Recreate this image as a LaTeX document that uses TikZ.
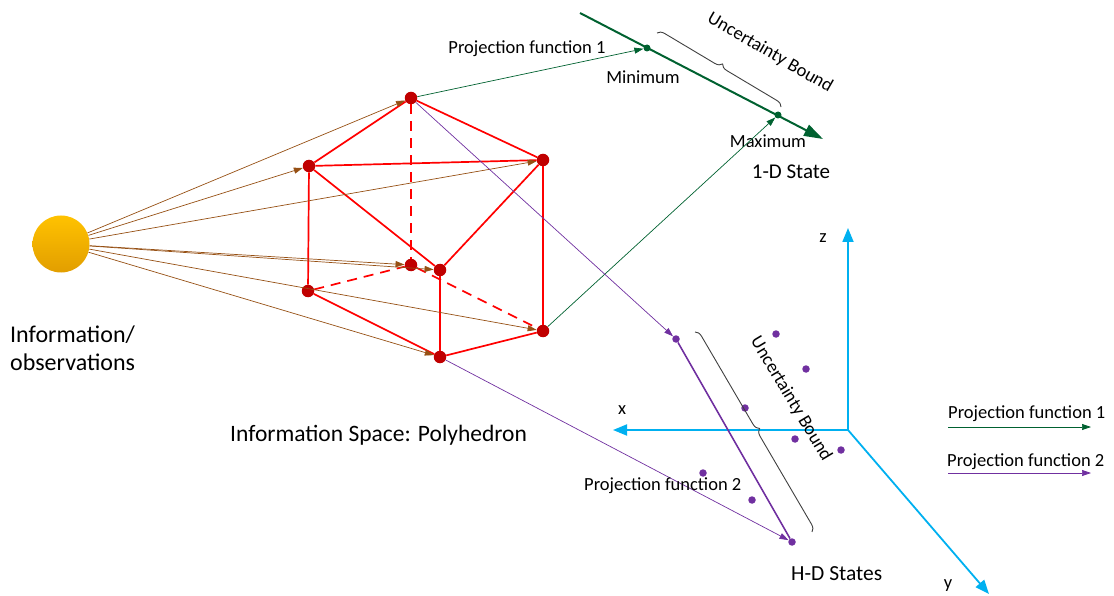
\documentclass[tikz,border=0pt]{standalone}
\usepackage{fontspec}
\setmainfont{Carlito}
\usetikzlibrary{arrows.meta,decorations.pathreplacing}

\definecolor{sunyellow}{RGB}{255,194,0}
\definecolor{sunorange}{RGB}{226,158,0}
\definecolor{edgered}{RGB}{255,0,0}
\definecolor{vertred}{RGB}{192,0,0}
\definecolor{raybrown}{RGB}{150,80,20}
\definecolor{projgreen}{RGB}{0,97,48}
\definecolor{projpurple}{RGB}{112,48,160}
\definecolor{axiscyan}{RGB}{0,176,240}
\definecolor{bracegray}{RGB}{64,64,64}

\tikzset{
  sun/.style={circle,inner sep=0pt,minimum size=57pt,top color=sunyellow,bottom color=sunorange},
  vert/.style={circle,fill=vertred,inner sep=0pt,minimum size=12.5pt},
  edge/.style={edgered,line width=1.7pt},
  hidden/.style={edge,dash pattern=on 10pt off 7pt},
  ray/.style={raybrown,line width=0.7pt,-{Triangle[length=9pt,width=6pt]}},
  proja/.style={projgreen,line width=0.7pt,-{Triangle[length=9pt,width=6pt]}},
  projb/.style={projpurple,line width=0.7pt,-{Triangle[length=9pt,width=6pt]}},
  gdot/.style={circle,fill=projgreen,inner sep=0pt,minimum size=7pt},
  pdot/.style={circle,fill=projpurple,inner sep=0pt,minimum size=7.5pt},
  ubrace/.style={bracegray,line width=0.9pt,decorate,decoration={brace,amplitude=7pt}},
  axis/.style={axiscyan,line width=1.8pt,-{Triangle[length=14pt,width=11pt]}},
  lbl/.style={anchor=base,inner sep=0pt,font=\fontsize{18.5}{20}\selectfont},
  big/.style={anchor=base west,inner sep=0pt,font=\fontsize{24}{26}\selectfont},
}

\begin{document}
\begin{tikzpicture}[x=1pt,y=-1pt]

  \useasboundingbox (0,0) rectangle (1114,596);

  % source of information
  \node[sun] (sun) at (61,244) {};
  \node[big] (info1) at (10,342) {Information/};
  \node[big] (info2) at (10,370) {observations};

  % corners of the polyhedron
  \node[vert] (top)  at (411,98)  {};
  \node[vert] (ul)   at (309,166) {};
  \node[vert] (ur)   at (543,160) {};
  \node[vert] (back) at (411,265) {};
  \node[vert] (mid)  at (440,270) {};
  \node[vert] (ll)   at (308,291) {};
  \node[vert] (lr)   at (543,331) {};
  \node[vert] (bot)  at (440,357) {};

  \draw[edge] (top) -- (ul);
  \draw[edge] (top) -- (ur);
  \draw[edge] (ul) -- (ur);
  \draw[edge] (ul) -- (ll);
  \draw[edge] (ul) -- (mid);
  \draw[edge] (ur) -- (mid);
  \draw[edge] (ur) -- (lr);
  \draw[edge] (mid) -- (bot);
  \draw[edge] (ll) -- (bot);
  \draw[edge] (bot) -- (lr);
  \draw[hidden] (top) -- (back);
  \draw[hidden] (ll) -- (back);
  \draw[hidden] (back) -- (lr);

  \foreach \v in {top,ul,ur,back,mid,lr,bot}
    \draw[ray] (sun) -- (\v);

  \node[big,font=\fontsize{23.5}{26}\selectfont] (space) at (230,441) {Information Space: Polyhedron};

  % 1-D state
  \coordinate (s0) at (580,13);
  \coordinate (s1) at (823,139);
  \draw[projgreen,line width=2pt,-{Triangle[length=19pt,width=12pt]}] (s0) -- (s1);
  \node[gdot] (min) at (647,48) {};
  \node[gdot] (max) at (778,115) {};
  \coordinate (ba) at (657,33);
  \coordinate (bb) at (781,107);
  \draw[ubrace] (ba) -- (bb);
  \node[lbl,anchor=center,rotate=-30] (ub1) at (770,53) {Uncertainty Bound};
  \node[lbl] (minl) at (643,84) {Minimum};
  \node[lbl] (maxl) at (768,148) {Maximum};
  \node[lbl,font=\fontsize{21}{24}\selectfont] (oned) at (791,179) {1-D State};

  \draw[proja] (top) -- (min);
  \draw[proja] (lr) -- (max);
  \node[lbl] (pf1) at (527,54) {Projection function 1};

  % axes
  \coordinate (o) at (848,430);
  \coordinate (zend) at (848,228);
  \coordinate (xend) at (613,430);
  \coordinate (yend) at (989,594);
  \draw[axis] (o) -- (zend);
  \draw[axis] (o) -- (xend);
  \draw[axis] (o) -- (yend);
  \node[lbl] (zl) at (823,243) {z};
  \node[lbl] (xl) at (622,414) {x};
  \node[lbl] (yl) at (948,588) {y};

  % H-D states
  \node[pdot] (hdtop) at (676,339) {};
  \node[pdot] (hdbot) at (792,542) {};
  \draw[projpurple,line width=1.6pt] (hdtop) -- (hdbot);
  \foreach \p/\q [count=\i] in {776/334,806/369,745/408,795/439,841/450,703/473,752/500}
    \node[pdot] (cloud\i) at (\p,\q) {};
  \coordinate (bc) at (695,332);
  \coordinate (bd) at (812,532);
  \draw[ubrace] (bc) -- (bd);
  \node[lbl,anchor=center,rotate=-59] (ub2) at (791,399) {Uncertainty Bound};

  \draw[projb] (top) -- (hdtop);
  \draw[projb] (bot) -- (hdbot);
  \node[lbl,anchor=base west] (pf2) at (584,490) {Projection function 2};
  \node[lbl,anchor=base west,font=\fontsize{21.5}{24}\selectfont] (hd) at (791,580) {H-D States};

  % legend
  \node[lbl,anchor=base west] (leg1) at (948,418) {Projection function 1};
  \coordinate (la0) at (948,427);
  \coordinate (la1) at (1091,427);
  \draw[proja] (la0) -- (la1);
  \node[lbl,anchor=base west] (leg2) at (947,466) {Projection function 2};
  \coordinate (lb0) at (948,473);
  \coordinate (lb1) at (1091,473);
  \draw[projb] (lb0) -- (lb1);

\end{tikzpicture}
\end{document}
